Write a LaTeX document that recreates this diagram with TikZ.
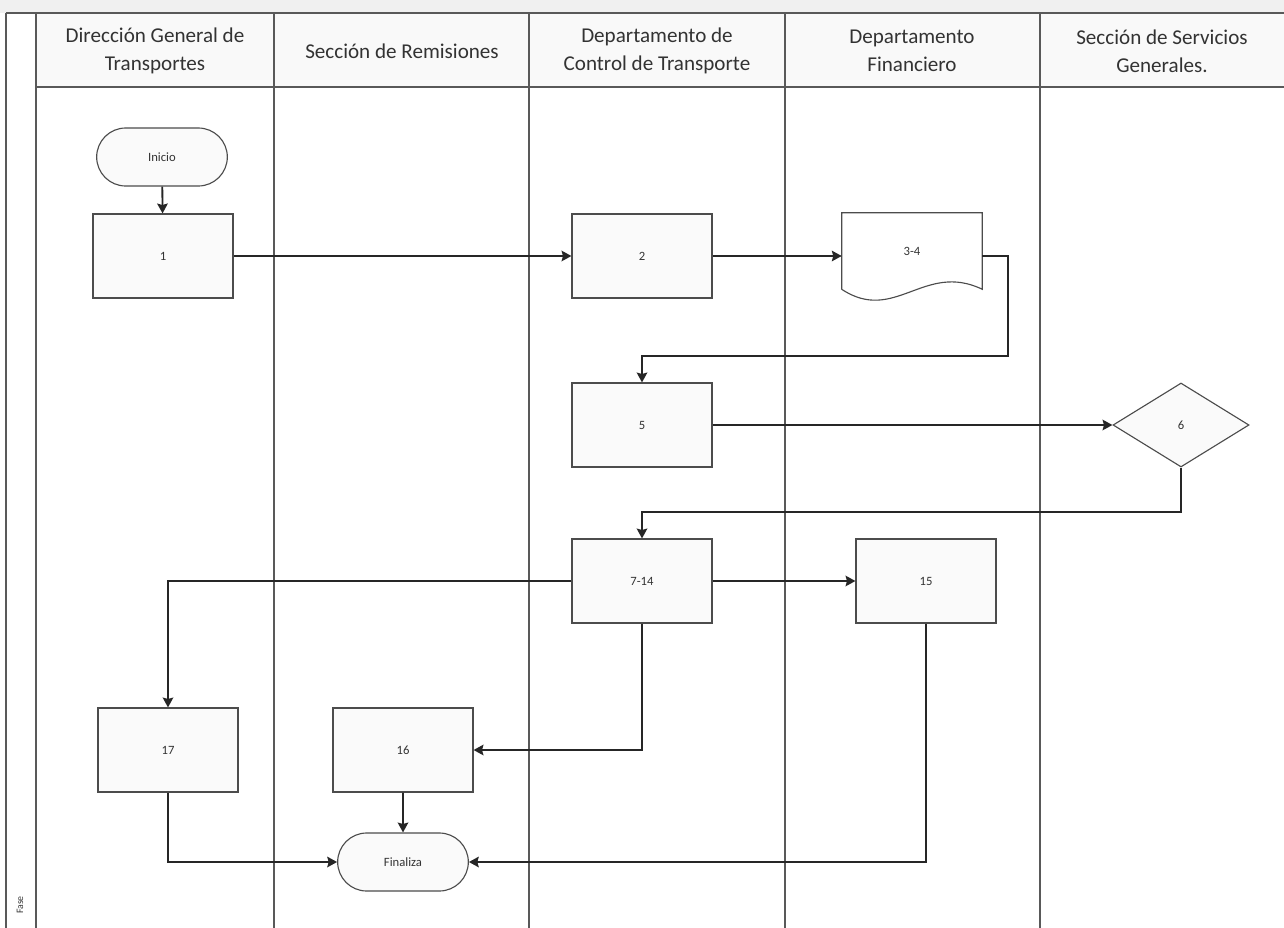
\documentclass[tikz,border=0pt]{standalone}
\usepackage{fontspec}
\setmainfont{Carlito}
\usepackage{tikz}
\usetikzlibrary{shapes,positioning,arrows.meta}
\tikzset{proc/.style={rectangle,draw=black!70,fill=gray!4,line width=0.8pt,minimum width=3.5cm,minimum height=2.1cm,font=\fontsize{9}{10}\selectfont,text=black!80}}
\tikzset{term/.style={rounded rectangle,draw=black!70,fill=gray!4,line width=0.8pt,minimum width=3.5cm,minimum height=1.45cm,font=\fontsize{9}{10}\selectfont,text=black!80}}
\tikzset{dec/.style={diamond,draw=black!70,fill=gray!4,line width=0.8pt,minimum width=3.4cm,minimum height=2.1cm,inner sep=0pt,font=\fontsize{9}{10}\selectfont,text=black!80}}
\tikzset{doc/.style={rectangle,minimum width=3.5cm,minimum height=1.9cm,font=\fontsize{9}{10}\selectfont,text=black!80}}
\tikzset{head/.style={align=center,font=\fontsize{15}{20}\selectfont,text=black!80}}
\tikzset{lane/.style={draw=black!65,line width=0.9pt}}
\tikzset{flow/.style={->,draw=black!85,line width=1.3pt}}

\begin{document}
\begin{tikzpicture}[>={Stealth[length=7pt,width=7.5pt,inset=1pt]},x=0.025cm,y=-0.025cm]
        \useasboundingbox (0,0) rectangle (1284,928);
        % lanes
        \fill[gray!12] (0,0) rectangle (1284,13);
        \fill[gray!5] (36,13) rectangle (1284,87);
        \draw[lane] (6,13) -- (1284,13);
        \draw[lane] (36,87) -- (1284,87);
        \foreach \lx in {6,36,274,529,785,1040}
            \draw[lane] (\lx,13) -- (\lx,928);

        \node[head] (h1) at (155,51) {Dirección General de\\Transportes};
        \node[head] (h2) at (402,51) {Sección de Remisiones};
        \node[head] (h3) at (657,51) {Departamento de\\Control de Transporte};
        \node[head] (h4) at (912,51) {Departamento\\Financiero};
        \node[head] (h5) at (1162,51) {Sección de Servicios\\Generales.};
        \node[rotate=90,font=\fontsize{7}{8}\selectfont,text=black!80] (fase) at (20,905) {Fase};

        % shapes
        \node[term] (ini) at (162,157) {Inicio};
        \node[proc] (p1) at (163,256) {1};
        \node[proc] (p2) at (642,256) {2};
        \node[doc] (d34) at (912,251) {3-4};
        \draw[draw=black!70,line width=0.8pt] (d34.south west) -- (d34.north west) -- (d34.north east) -- (d34.south east)
            .. controls +(-58,-28) and +(53,35) .. (d34.south west);
        \node[proc] (p5) at (642,425) {5};
        \node[dec] (d6) at (1181,425) {6};
        \node[proc] (p714) at (642,581) {7-14};
        \node[proc] (p15) at (926,581) {15};
        \node[proc] (p17) at (168,750) {17};
        \node[proc] (p16) at (403,750) {16};
        \node[term] (fin) at (403,862) {Finaliza};

        \coordinate (c1) at (1008,356);
        \coordinate (c2) at (642,512);

        % connectors
        \draw[flow] (ini) -- (p1);
        \draw[flow] (p1) -- (p2);
        \draw[flow] (p2.east) -- (p2.east -| d34.west);
        \draw[flow] (d34.east |- p2.east) -| (c1) -| (p5);
        \draw[flow] (p5) -- (d6);
        \draw[flow] (d6.south) |- (c2) -- (p714);
        \draw[flow] (p714) -| (p17);
        \draw[flow] (p714) -- (p15);
        \draw[flow] (p714) |- (p16);
        \draw[flow] (p16) -- (fin);
        \draw[flow] (p17) |- (fin);
        \draw[flow] (p15) |- (fin);
    \end{tikzpicture}
\end{document}
